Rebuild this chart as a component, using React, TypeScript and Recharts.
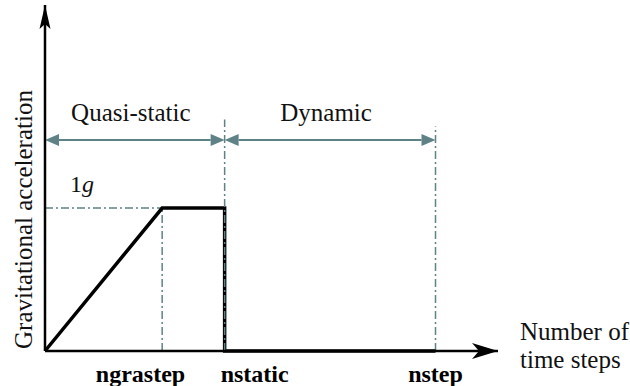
import React from "react";
import {
  LineChart,
  Line,
  XAxis,
  YAxis,
  ReferenceLine,
  ReferenceDot,
} from "recharts";

// time step markers
const ngrastep = 30;
const nstatic = 46;
const nstep = 100;
const xMax = 116;
const yMax = 2.42;
const phaseArrowY = 1.476;
const staticDashTop = 1.62;
const stepDashTop = 1.57;

const accelData = [
  { x: 0, y: 0 },
  { x: ngrastep, y: 1 },
  { x: nstatic, y: 1 },
  { x: nstatic, y: 0 },
  { x: nstep, y: 0 },
];

const xTicks = [ngrastep, nstatic, nstep];
const xTickLabels = ["ngrastep", "nstatic", "nstep"];
const phaseLabels = ["Quasi-static", "Dynamic"];
const yTitle = "Gravitational acceleration";
const xTitle = ["Number of", "time steps"];

const FONT = "Liberation Serif, Times New Roman, serif";
const GREY = "#5e8285";
const DASH = "8 3 2 3";
const serif = { fontFamily: FONT };

const XTick = (props: any) => {
  const { x, y, index } = props;
  const anchor = index === 0 ? "end" : index === 1 ? "start" : "middle";
  const dx = index === 0 ? 23 : index === 1 ? -4 : 0;
  return (
    <text
      x={x + dx}
      y={y + 23}
      textAnchor={anchor}
      style={serif}
      fontSize={24}
      fontWeight="bold"
      fill="#000"
    >
      {xTickLabels[index]}
    </text>
  );
};

// grey double-headed arrow
const PhaseArrow = (props: any) => {
  const { x1, y1, x2, y2 } = props;
  const h = 14;
  const w = 6;
  return (
    <g>
      <line x1={x1 + h} y1={y1} x2={x2 - h} y2={y2} stroke={GREY} strokeWidth={2} />
      <polygon points={`${x1},${y1} ${x1 + h},${y1 - w} ${x1 + h},${y1 + w}`} fill={GREY} />
      <polygon points={`${x2},${y2} ${x2 - h},${y2 - w} ${x2 - h},${y2 + w}`} fill={GREY} />
    </g>
  );
};

const RightArrowHead = (props: any) => {
  const { cx, cy } = props;
  return (
    <path
      d={`M${cx},${cy} L${cx - 26},${cy - 8} L${cx - 19},${cy} L${cx - 26},${cy + 8} Z`}
      fill="#000"
    />
  );
};

const UpArrowHead = (props: any) => {
  const { cx, cy } = props;
  return (
    <path
      d={`M${cx},${cy} L${cx - 5.5},${cy + 24} L${cx},${cy + 19} L${cx + 5.5},${cy + 24} Z`}
      fill="#000"
    />
  );
};

const PhaseLabel = (text: string) => (props: any) => {
  const { viewBox } = props;
  return (
    <text
      x={viewBox.x + viewBox.width / 2 - 4}
      y={viewBox.y - 19}
      textAnchor="middle"
      style={serif}
      fontSize={25}
      fill="#111"
    >
      {text}
    </text>
  );
};

const OneG = (props: any) => {
  const { viewBox } = props;
  return (
    <text x={viewBox.x + 25} y={viewBox.y - 16} style={serif} fontSize={24} fill="#111">
      1<tspan fontStyle="italic">g</tspan>
    </text>
  );
};

const YTitle = (props: any) => {
  const { viewBox } = props;
  const cx = 24;
  const cy = viewBox.y + viewBox.height * 0.62;
  return (
    <text
      x={cx}
      y={cy}
      transform={`rotate(-90, ${cx}, ${cy})`}
      textAnchor="middle"
      dominantBaseline="central"
      style={serif}
      fontSize={25}
      fill="#111"
    >
      {yTitle}
    </text>
  );
};

const XTitle = (props: any) => {
  const { viewBox } = props;
  const x = viewBox.x + viewBox.width + 22;
  return (
    <text style={serif} fontSize={25} fill="#111">
      <tspan x={x} y={340}>{xTitle[0]}</tspan>
      <tspan x={x} y={368}>{xTitle[1]}</tspan>
    </text>
  );
};

export default function App() {
  return (
    <div style={{ position: "absolute", left: 0, top: 0, background: "#fff", fontFamily: FONT }}>
      <LineChart
        width={630}
        height={386}
        data={accelData}
        margin={{ top: 5, right: 132, bottom: 5, left: 0 }}
      >
        <XAxis
          type="number"
          dataKey="x"
          domain={[0, xMax]}
          ticks={xTicks}
          height={30}
          tick={<XTick />}
          tickLine={false}
          axisLine={{ stroke: "#000", strokeWidth: 2.5 }}
          label={<XTitle />}
        />
        <YAxis
          type="number"
          domain={[0, yMax]}
          width={45}
          tick={false}
          tickLine={false}
          axisLine={{ stroke: "#000", strokeWidth: 2.5 }}
          label={<YTitle />}
        />
        <ReferenceLine
          segment={[{ x: 0, y: 1 }, { x: ngrastep, y: 1 }]}
          stroke={GREY}
          strokeWidth={1.5}
          strokeDasharray={DASH}
          label={<OneG />}
        />
        <ReferenceLine
          segment={[{ x: ngrastep, y: 0 }, { x: ngrastep, y: 1 }]}
          stroke={GREY}
          strokeWidth={1.5}
          strokeDasharray={DASH}
        />
        <ReferenceLine
          segment={[{ x: nstep, y: 0 }, { x: nstep, y: stepDashTop }]}
          stroke={GREY}
          strokeWidth={1.5}
          strokeDasharray={DASH}
        />
        <Line
          dataKey="y"
          type="linear"
          stroke="#000"
          strokeWidth={3.5}
          dot={false}
          isAnimationActive={false}
        />
        <ReferenceLine
          segment={[{ x: nstatic, y: 0 }, { x: nstatic, y: staticDashTop }]}
          stroke={GREY}
          strokeWidth={1.5}
          strokeDasharray={DASH}
        />
        <ReferenceLine
          segment={[{ x: 0, y: phaseArrowY }, { x: nstatic, y: phaseArrowY }]}
          shape={<PhaseArrow />}
          label={PhaseLabel(phaseLabels[0])}
        />
        <ReferenceLine
          segment={[{ x: nstatic, y: phaseArrowY }, { x: nstep, y: phaseArrowY }]}
          shape={<PhaseArrow />}
          label={PhaseLabel(phaseLabels[1])}
        />
        <ReferenceDot x={xMax} y={0} ifOverflow="visible" shape={<RightArrowHead />} />
        <ReferenceDot x={0} y={yMax} ifOverflow="visible" shape={<UpArrowHead />} />
      </LineChart>
    </div>
  );
}
